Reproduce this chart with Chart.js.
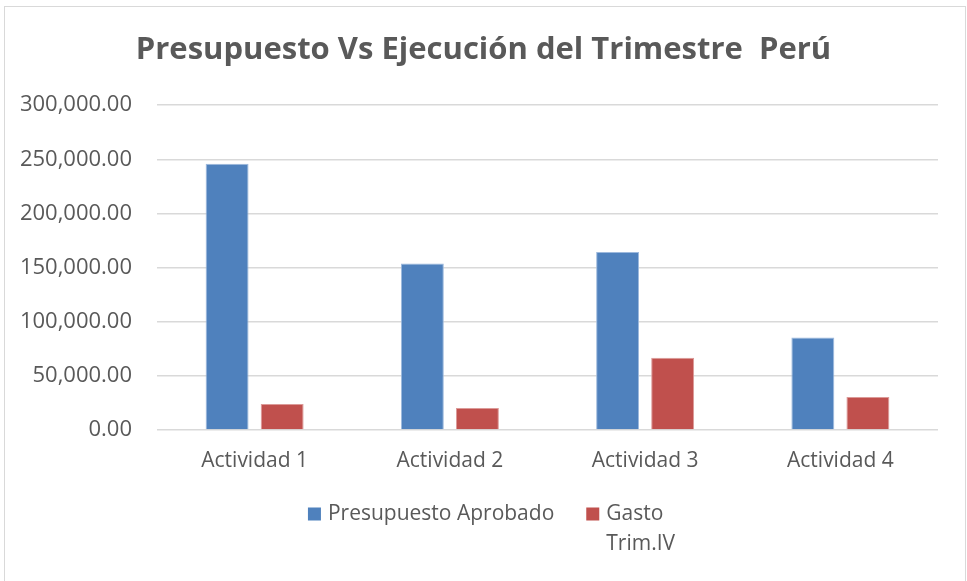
<!DOCTYPE html>
<html>
<head>
<meta charset="utf-8">
<script src="https://cdn.jsdelivr.net/npm/chart.js@4"></script>
<style>
  html,body{margin:0;padding:0;background:#fff;}
  #wrap{position:relative;width:967px;height:581px;}
  #frame{position:absolute;left:4px;top:6px;width:962px;height:580px;box-sizing:border-box;border:1px solid #d9d9d9;pointer-events:none;}
  canvas{position:absolute;left:0;top:0;}
</style>
</head>
<body>
<div id="wrap">
  <canvas id="chart" width="967" height="581"></canvas>
  <div id="frame"></div>
</div>
<script>
var categories = ['Actividad 1','Actividad 2','Actividad 3','Actividad 4'];
var presupuesto = [246000, 153700, 164400, 85500];
var gasto = [24000, 20300, 66700, 30400];
var seriesNames = ['Presupuesto Aprobado','Gasto Trim.IV'];
var legendLines = [['Presupuesto Aprobado'], ['Gasto','Trim.IV']];
var yMax = 300000, yStep = 50000;

var textColor = '#595959';

function fmt(v){
  return Number(v).toLocaleString('en-US',{minimumFractionDigits:2, maximumFractionDigits:2});
}

// legend drawn by hand: the second series name wraps onto two lines
var wrapLegend = {
  id: 'wrapLegend',
  afterDraw: function(chart){
    var ctx = chart.ctx;
    var box = 13, gap = 7, itemGap = 32, lineH = 30;
    ctx.save();
    ctx.font = '21px "Open Sans"';
    ctx.textBaseline = 'middle';
    ctx.textAlign = 'left';
    var widths = [], total = 0;
    for(var i=0;i<chart.data.datasets.length;i++){
      var w = 0;
      for(var j=0;j<legendLines[i].length;j++){ w = Math.max(w, ctx.measureText(legendLines[i][j]).width); }
      widths.push(box + gap + w);
      total += box + gap + w;
    }
    total += itemGap * (widths.length - 1);
    var x = chart.width/2 + 8 - total/2;
    var y = chart.chartArea.bottom + 84;
    for(var k=0;k<chart.data.datasets.length;k++){
      var ds = chart.data.datasets[k];
      ctx.fillStyle = ds.backgroundColor;
      ctx.fillRect(x, y - box/2, box, box);
      ctx.fillStyle = textColor;
      for(var m=0;m<legendLines[k].length;m++){
        ctx.fillText(legendLines[k][m], x + box + gap, y + m*lineH);
      }
      x += widths[k] + itemGap;
    }
    ctx.restore();
  }
};

window.addEventListener('load', function(){
  var ctx = document.getElementById('chart').getContext('2d');
  new Chart(ctx, {
    type: 'bar',
    data: {
      labels: categories,
      datasets: [{
        label: seriesNames[0],
        data: presupuesto,
        backgroundColor: '#4f81bd',
        borderColor: '#9db9dd',
        borderWidth: 1,
        categoryPercentage: 0.564,
        barPercentage: 0.78
      },{
        label: seriesNames[1],
        data: gasto,
        backgroundColor: '#c0504d',
        borderColor: '#dc9a98',
        borderWidth: 1,
        categoryPercentage: 0.564,
        barPercentage: 0.78
      }]
    },
    plugins: [wrapLegend],
    options: {
      responsive: false,
      animation: false,
      devicePixelRatio: 1,
      layout: { padding: { left: 0, right: 0, top: 0, bottom: 106 } },
      plugins: {
        title: {
          display: true,
          text: 'Presupuesto Vs Ejecución del Trimestre  Perú',
          color: textColor,
          font: { family: '"Open Sans"', size: 31, weight: 'bold' },
          padding: { top: 32, bottom: 36 }
        },
        legend: { display: false },
        tooltip: { enabled: false }
      },
      scales: {
        x: {
          grid: { display: false },
          border: { display: false },
          ticks: { color: textColor, font: { family: '"Open Sans"', size: 21 }, padding: 10 },
          afterFit: function(s){ s.height = 45; }
        },
        y: {
          min: 0,
          max: yMax,
          ticks: {
            stepSize: yStep,
            color: textColor,
            font: { family: '"Open Sans"', size: 22 },
            padding: 25,
            callback: function(v){ return fmt(v); }
          },
          grid: { color: '#d9d9d9', lineWidth: 1.5, drawTicks: false },
          border: { display: false },
          afterFit: function(s){ s.width = 157; }
        },
        yRight: {
          position: 'right',
          grid: { display: false },
          border: { display: false },
          ticks: { display: false },
          afterFit: function(s){ s.width = 29; }
        }
      }
    }
  });
});
</script>
</body>
</html>
